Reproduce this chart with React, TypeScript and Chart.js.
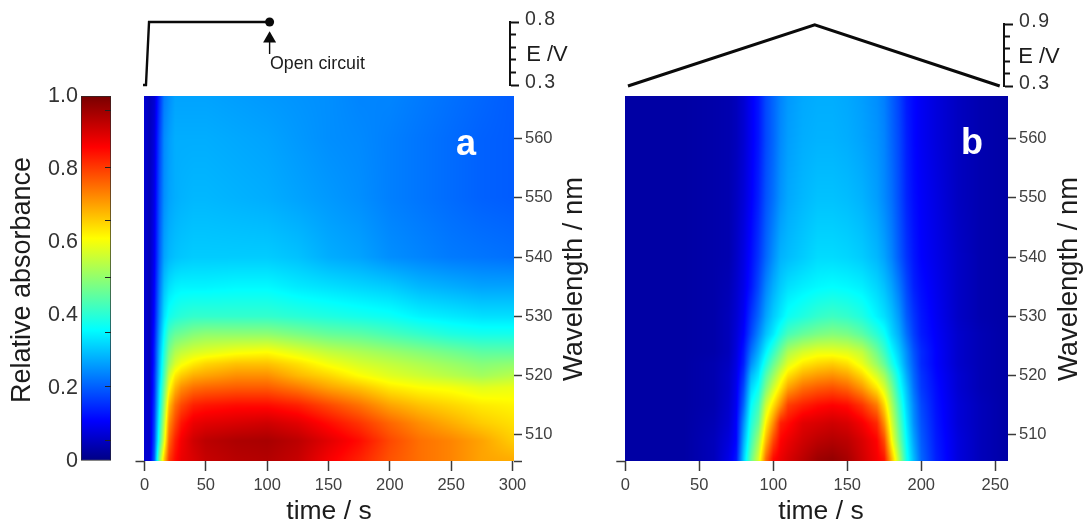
import React, { useEffect, useRef } from "react";
import { Chart, registerables } from "chart.js";
Chart.register(...registerables);

const wavelengths = [567, 560, 550, 540, 535, 530, 527, 524, 522, 520, 518, 515, 512, 509, 506];

const timesA = [0, 4, 8, 12, 16, 20, 25, 30, 40, 50, 75, 100, 125, 150, 175, 200, 225, 250, 275, 300];
const absorbanceA = [
  [.07, .07, .07, .07, .07, .07, .07, .07, .07, .07, .07, .07, .07, .07, .07],
  [.05, .05, .05, .05, .05, .05, .05, .05, .05, .05, .05, .06, .06, .06, .07],
  [.07, .08, .09, .1, .11, .12, .13, .14, .14, .15, .15, .16, .17, .18, .2],
  [.15, .17, .185, .2, .22, .24, .26, .28, .29, .3, .32, .34, .37, .4, .48],
  [.23, .245, .25, .27, .3, .33, .36, .39, .41, .43, .46, .5, .54, .58, .66],
  [.25, .265, .27, .29, .33, .375, .43, .48, .51, .56, .6, .67, .72, .76, .8],
  [.27, .28, .28, .3, .345, .39, .46, .53, .57, .63, .68, .75, .79, .83, .85],
  [.27, .28, .285, .305, .35, .4, .47, .55, .6, .66, .72, .79, .84, .87, .88],
  [.27, .28, .29, .31, .35, .41, .49, .57, .63, .69, .75, .83, .88, .91, .9],
  [.27, .28, .29, .31, .35, .41, .5, .58, .65, .7, .76, .84, .89, .93, .92],
  [.265, .275, .285, .31, .355, .41, .5, .6, .67, .72, .77, .85, .9, .945, .935],
  [.26, .27, .28, .31, .355, .41, .5, .61, .67, .72, .77, .85, .91, .95, .94],
  [.255, .26, .27, .3, .34, .4, .48, .58, .64, .68, .74, .83, .89, .93, .92],
  [.25, .25, .26, .28, .33, .39, .46, .55, .6, .65, .7, .79, .85, .89, .87],
  [.24, .245, .25, .27, .32, .38, .45, .53, .57, .61, .67, .75, .81, .85, .83],
  [.24, .235, .235, .25, .31, .37, .43, .51, .55, .58, .63, .7, .76, .79, .78],
  [.23, .225, .225, .24, .29, .35, .41, .49, .53, .56, .61, .67, .72, .75, .75],
  [.22, .215, .215, .23, .28, .34, .39, .47, .51, .54, .6, .65, .69, .73, .73],
  [.21, .205, .205, .225, .27, .33, .38, .45, .49, .52, .58, .63, .66, .7, .7],
  [.2, .2, .2, .22, .27, .33, .38, .45, .5, .54, .59, .62, .64, .66, .69],
];

const timesB = [0, 40, 60, 70, 75, 80, 85, 90, 95, 100, 105, 110, 120, 130, 140, 150, 160, 170, 175, 180, 185, 190, 195, 200, 210, 225, 240, 259];
const absorbanceB = [
  [.03, .03, .03, .03, .03, .03, .03, .03, .03, .03, .03, .03, .03, .03, .03],
  [.03, .03, .03, .03, .03, .03, .03, .03, .03, .03, .03, .03, .03, .03, .03],
  [.035, .035, .035, .035, .035, .035, .035, .035, .04, .04, .04, .04, .045, .05, .05],
  [.04, .04, .04, .04, .045, .05, .05, .05, .055, .06, .06, .065, .07, .08, .09],
  [.05, .05, .055, .06, .065, .07, .075, .08, .085, .09, .095, .1, .11, .115, .13],
  [.07, .07, .075, .085, .09, .1, .11, .13, .14, .16, .18, .21, .25, .28, .31],
  [.1, .1, .105, .12, .13, .16, .18, .22, .25, .29, .32, .36, .39, .42, .46],
  [.13, .13, .14, .16, .18, .21, .24, .28, .31, .34, .37, .42, .46, .52, .57],
  [.18, .18, .19, .21, .24, .27, .3, .35, .39, .44, .48, .56, .62, .68, .75],
  [.21, .21, .22, .25, .28, .31, .34, .41, .46, .51, .56, .64, .72, .79, .85],
  [.24, .245, .255, .285, .31, .34, .39, .47, .52, .58, .63, .72, .83, .86, .88],
  [.26, .265, .275, .295, .33, .37, .43, .53, .58, .64, .7, .8, .85, .88, .9],
  [.275, .28, .29, .31, .345, .39, .46, .57, .63, .69, .75, .83, .89, .91, .93],
  [.28, .285, .3, .325, .355, .41, .48, .59, .65, .71, .77, .85, .9, .93, .96],
  [.28, .285, .3, .325, .36, .42, .49, .59, .66, .72, .78, .86, .91, .94, .97],
  [.275, .28, .295, .32, .355, .41, .48, .58, .64, .7, .76, .85, .9, .93, .95],
  [.265, .27, .285, .31, .345, .39, .45, .55, .59, .65, .71, .81, .87, .9, .91],
  [.25, .255, .265, .29, .32, .35, .4, .47, .51, .57, .63, .74, .82, .86, .87],
  [.235, .24, .245, .27, .3, .33, .37, .42, .46, .52, .57, .65, .72, .79, .84],
  [.205, .21, .22, .24, .27, .3, .32, .36, .39, .44, .48, .53, .57, .61, .68],
  [.175, .18, .185, .2, .23, .26, .28, .31, .33, .36, .38, .42, .45, .48, .53],
  [.135, .14, .145, .16, .18, .2, .22, .25, .26, .28, .3, .32, .34, .36, .38],
  [.115, .115, .12, .13, .14, .16, .17, .19, .2, .21, .22, .24, .25, .27, .29],
  [.1, .1, .105, .11, .12, .13, .135, .15, .15, .16, .165, .18, .19, .2, .21],
  [.08, .08, .085, .09, .095, .1, .105, .11, .11, .115, .12, .125, .13, .135, .14],
  [.055, .055, .055, .06, .06, .06, .065, .065, .065, .07, .07, .075, .075, .08, .08],
  [.04, .04, .04, .04, .04, .04, .045, .045, .045, .045, .045, .05, .05, .05, .05],
  [.03, .03, .03, .03, .03, .03, .03, .03, .03, .03, .03, .03, .03, .03, .03],
];

const colorStops = [
  [0, 0, 0, 130], [0.11, 0, 0, 255], [0.36, 0, 255, 255],
  [0.61, 255, 255, 0], [0.86, 255, 0, 0], [1, 120, 0, 0],
];

const colorbarLabels = [0, 0.2, 0.4, 0.6, 0.8, 1];
const colorbarMarks = [0.055, 0.203, 0.353, 0.504, 0.658, 0.805, 0.959];
const timeTicksA = [0, 50, 100, 150, 200, 250, 300];
const timeTicksB = [0, 50, 100, 150, 200, 250];
const wavelengthTicks = [510, 520, 530, 540, 550, 560];

const potentialTimesA = [-1.2, 1.2, 3.7, 102];
const potentialA = [0.3, 0.3, 0.8, 0.8];
const potentialTimesB = [1.8, 128, 253];
const potentialB = [0.3, 0.893, 0.3];
const potentialTicksA = [0.3, 0.4, 0.5, 0.6, 0.7, 0.8];
const potentialTicksB = [0.3, 0.42, 0.54, 0.66, 0.78, 0.9];

const W = 1083, H = 523;
const WMIN = 505.6, WMAX = 567.2;
const TICK = "#3a3a3a", INK = "#1c1c1c";
const SIDE = 50, FOOT = 40;

function colorFor(v: number): [number, number, number] {
  for (let i = 1; i < colorStops.length; i++) {
    const a = colorStops[i - 1], b = colorStops[i];
    if (v <= b[0]) {
      const f = Math.max(0, (v - a[0]) / (b[0] - a[0]));
      return [a[1] + (b[1] - a[1]) * f, a[2] + (b[2] - a[2]) * f, a[3] + (b[3] - a[3]) * f];
    }
  }
  const l = colorStops[colorStops.length - 1];
  return [l[1], l[2], l[3]];
}

function bracket(arr: number[], v: number): [number, number] {
  const asc = arr[arr.length - 1] > arr[0];
  for (let i = 0; i < arr.length - 1; i++) {
    const a = arr[i], b = arr[i + 1];
    if (asc ? v <= b : v >= b) return [i, Math.min(1, Math.max(0, (v - a) / (b - a)))];
  }
  return [arr.length - 2, 1];
}

function heatPlugin(times: number[], wl: number[], m: number[][]) {
  return {
    id: "heat",
    beforeDatasetsDraw(chart: any) {
      const { ctx, chartArea: c, scales } = chart;
      const x0 = Math.floor(c.left), x1 = Math.ceil(c.right), y0 = Math.floor(c.top), y1 = Math.ceil(c.bottom);
      const img = ctx.createImageData(x1 - x0, y1 - y0);
      for (let py = y0; py < y1; py++) {
        const [j, fy] = bracket(wl, scales.y.getValueForPixel(py + 0.5));
        for (let px = x0; px < x1; px++) {
          const [i, fx] = bracket(times, scales.x.getValueForPixel(px + 0.5));
          const top = m[i][j] * (1 - fx) + m[i + 1][j] * fx;
          const bot = m[i][j + 1] * (1 - fx) + m[i + 1][j + 1] * fx;
          const [r, g, b] = colorFor(top * (1 - fy) + bot * fy);
          const k = ((py - y0) * (x1 - x0) + (px - x0)) * 4;
          img.data[k] = r; img.data[k + 1] = g; img.data[k + 2] = b; img.data[k + 3] = 255;
        }
      }
      ctx.putImageData(img, x0, y0);
    },
  };
}

type Txt = { t: string; x: number; y: number; font: string; color?: string; rot?: boolean; align?: CanvasTextAlign };
function textPlugin(items: Txt[]) {
  return {
    id: "texts",
    afterDraw(chart: any) {
      const ctx = chart.ctx;
      ctx.save();
      ctx.letterSpacing = "0px";
      items.forEach((it) => {
        ctx.save();
        ctx.translate(it.x, it.y);
        if (it.rot) ctx.rotate(-Math.PI / 2);
        ctx.font = it.font;
        ctx.fillStyle = it.color || INK;
        ctx.textAlign = it.align || "center";
        ctx.textBaseline = "middle";
        ctx.fillText(it.t, 0, 0);
        ctx.restore();
      });
      ctx.restore();
    },
  };
}

const FONT = "'Liberation Sans', Arial, sans-serif";
const fixW = (s: any) => { s.width = SIDE; };
const zeroW = (s: any) => { s.width = 0; };
const fixH = (s: any) => { s.height = FOOT; };
const setTicks = (vals: number[]) => (s: any) => { s.ticks = vals.map((v) => ({ value: v })); };
const pad = (l: number, t: number, r: number, b: number) => ({ left: l, top: t, right: W - r, bottom: H - b });

function heatConfig(times: number[], m: number[][], left: number, right: number, xMax: number, xTicks: number[], texts: Txt[], endMark: boolean) {
  const points: any[] = [];
  times.forEach((t, i) => wavelengths.forEach((w, j) => points.push({ x: t, y: w, v: m[i][j] })));
  const rightTicks = endMark ? [WMIN, ...wavelengthTicks] : wavelengthTicks;
  return {
    type: "scatter",
    data: { datasets: [{ data: points, pointRadius: 0 }] },
    plugins: [heatPlugin(times, wavelengths, m), textPlugin(texts)],
    options: {
      responsive: false, animation: false,
      layout: { padding: pad(left, 96, right + SIDE, 461 + FOOT) },
      plugins: { legend: { display: false }, tooltip: { enabled: false } },
      scales: {
        x: {
          type: "linear", min: 0, max: xMax, position: "bottom", afterFit: fixH, afterBuildTicks: setTicks(xTicks),
          border: { display: false }, grid: { drawOnChartArea: false, tickLength: 10, tickColor: TICK, tickWidth: 1.5 },
          ticks: { autoSkip: false, maxRotation: 0, padding: 5, color: "#404040", font: { family: FONT, size: 16.5 }, callback: (v: any) => String(v) },
        },
        y: {
          type: "linear", min: WMIN, max: WMAX, position: "right", afterFit: fixW, afterBuildTicks: setTicks(rightTicks),
          border: { display: false }, grid: { drawOnChartArea: false, tickLength: 8, tickColor: TICK, tickWidth: 1.5 },
          ticks: { autoSkip: false, padding: 3, color: "#404040", font: { family: FONT, size: 16.5 }, callback: (v: any) => (wavelengthTicks.includes(v) ? String(v) : "") },
        },
        yMark: {
          type: "linear", axis: "y", min: WMIN, max: WMAX, position: "left", afterFit: zeroW, afterBuildTicks: setTicks([WMIN]),
          border: { display: false }, grid: { drawOnChartArea: false, tickLength: 9, tickColor: TICK, tickWidth: 1.5 },
          ticks: { display: false },
        },
      },
    },
  };
}

function potentialConfig(left: number, top: number, right: number, bottom: number, xMax: number, yMin: number, yMax: number, ticks: number[], datasets: any[], texts: Txt[]) {
  return {
    type: "scatter",
    data: { datasets },
    plugins: [
      { id: "spacing", beforeDraw(chart: any) { chart.ctx.letterSpacing = "1.5px"; } },
      textPlugin(texts),
    ],
    options: {
      responsive: false, animation: false,
      layout: { padding: pad(left, top, right + SIDE, bottom) },
      plugins: { legend: { display: false }, tooltip: { enabled: false } },
      scales: {
        x: { type: "linear", min: 0, max: xMax, display: false },
        y: {
          type: "linear", min: yMin, max: yMax, position: "right", afterFit: fixW, afterBuildTicks: setTicks(ticks),
          border: { display: true, color: "#111", width: 2 },
          grid: {
            drawOnChartArea: false, tickLength: 9, tickColor: "#111", tickWidth: 2,
            tickBorderDash: (c: any) => (c.tick && c.tick.value !== yMin && c.tick.value !== yMax ? [5, 100] : []),
          },
          ticks: {
            autoSkip: false, padding: 6, color: "#333", labelOffset: -2,
            font: { family: FONT, size: 19.5 },
            callback: (v: any) => (v === yMin || v === yMax ? v.toFixed(1) : ""),
          },
        },
      },
    },
  };
}

const linePoints = (xs: number[], ys: number[]) => xs.map((x, i) => ({ x, y: ys[i] }));
const traceStyle = { showLine: true, borderColor: "#0a0a0a", pointRadius: 0, clip: false };

const colorbarConfig: any = {
  type: "bar",
  data: {
    labels: ["Relative absorbance"],
    datasets: [{
      data: [[0, 1]],
      barPercentage: 1, categoryPercentage: 1,
      borderColor: "#2a2a2a", borderWidth: 1, borderSkipped: false,
      backgroundColor: (c: any) => {
        const a = c.chart.chartArea;
        if (!a) return "#000";
        const g = c.chart.ctx.createLinearGradient(0, a.bottom, 0, a.top);
        colorStops.forEach((s) => g.addColorStop(s[0], `rgb(${s[1]},${s[2]},${s[3]})`));
        return g;
      },
    }],
  },
  plugins: [textPlugin([{ t: "Relative absorbance", x: 23, y: 280, font: `27px ${FONT}`, rot: true }])],
  options: {
    responsive: false, animation: false,
    layout: { padding: pad(81 - SIDE, 96, 111, 461) },
    plugins: { legend: { display: false }, tooltip: { enabled: false } },
    scales: {
      x: { display: false },
      y: {
        type: "linear", min: 0, max: 1, position: "left", afterFit: fixW, afterBuildTicks: setTicks(colorbarLabels),
        border: { display: false }, grid: { drawOnChartArea: false, drawTicks: false },
        ticks: { autoSkip: false, padding: 3, color: "#333", font: { family: FONT, size: 21.5 }, callback: (v: any) => (v === 0 ? "0" : v.toFixed(1)) },
      },
      yMarks: {
        type: "linear", axis: "y", min: 0, max: 1, position: "right", afterFit: zeroW, afterBuildTicks: setTicks(colorbarMarks),
        border: { display: false }, grid: { z: 1, drawOnChartArea: false, tickLength: -6, tickColor: "#222", tickWidth: 1 },
        ticks: { display: false },
      },
    },
  },
};

const heatA = heatConfig(timesA, absorbanceA, 144.5, 514, 301.2, timeTicksA, [
  { t: "a", x: 466, y: 145, font: `bold 36px ${FONT}`, color: "#fff" },
  { t: "time / s", x: 329, y: 512, font: `26.5px ${FONT}` },
  { t: "Wavelength / nm", x: 574, y: 279, font: `27.3px ${FONT}`, rot: true },
], true);
const heatB = heatConfig(timesB, absorbanceB, 625.3, 1008, 258.6, timeTicksB, [
  { t: "b", x: 972, y: 144, font: `bold 36px ${FONT}`, color: "#fff" },
  { t: "time / s", x: 821, y: 512, font: `26.5px ${FONT}` },
  { t: "Wavelength / nm", x: 1069, y: 279, font: `27.3px ${FONT}`, rot: true },
], false);

const potA = potentialConfig(144.5, 22, 510, 85, 298, 0.3, 0.8, potentialTicksA, [
  { data: linePoints(potentialTimesA, potentialA), ...traceStyle, borderWidth: 2.4 },
  { data: [{ x: 102, y: 0.8 }], pointRadius: 4.5, pointBackgroundColor: "#0a0a0a", pointBorderWidth: 0, clip: false },
  { data: [{ x: 102, y: 0.667 }], pointStyle: "triangle", pointRadius: 7.5, pointBackgroundColor: "#0a0a0a", pointBorderWidth: 0, clip: false },
  { data: [{ x: 102, y: 0.68 }, { x: 102, y: 0.546 }], showLine: true, borderColor: "#0a0a0a", borderWidth: 1.4, pointRadius: 0, clip: false },
], [
  { t: "Open circuit", x: 270, y: 64, font: `17.8px ${FONT}`, align: "left" },
  { t: "E /V", x: 547, y: 55, font: `22px ${FONT}` },
]);

const potB = potentialConfig(625.3, 24, 1004, 86, 255.9, 0.3, 0.9, potentialTicksB, [
  { data: linePoints(potentialTimesB, potentialB), ...traceStyle, borderWidth: 3 },
], [
  { t: "E /V", x: 1039, y: 57, font: `22px ${FONT}` },
]);

const configs: any[] = [colorbarConfig, heatA, heatB, potA, potB];

export default function App() {
  const refs = useRef<(HTMLCanvasElement | null)[]>([]);
  useEffect(() => {
    const charts = configs.map((cfg, i) => new Chart(refs.current[i] as HTMLCanvasElement, cfg));
    return () => charts.forEach((c) => c.destroy());
  }, []);
  return (
    <div style={{ position: "fixed", left: 0, top: 0, width: W, height: H, background: "#fff", overflow: "hidden" }}>
      {configs.map((_, i) => (
        <canvas
          key={i}
          ref={(el) => { refs.current[i] = el; }}
          width={W}
          height={H}
          style={{ position: "absolute", left: 0, top: 0, width: W, height: H }}
        />
      ))}
    </div>
  );
}
